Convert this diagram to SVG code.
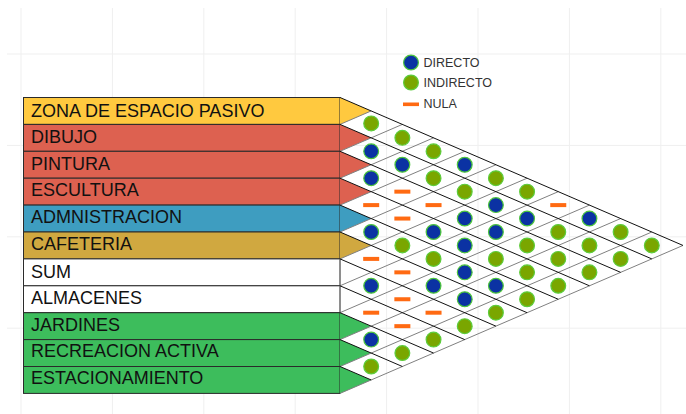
<svg xmlns="http://www.w3.org/2000/svg" xmlns:xlink="http://www.w3.org/1999/xlink" width="686" height="414" viewBox="0 0 686 414">
<style>
.bg{stroke:#efefef;stroke-width:1;fill:none}
.lbl{stroke:#2a2a2a;stroke-width:1}
.t{font-family:"Liberation Sans",Arial,sans-serif;font-size:18px;fill:#111}
.lg{font-family:"Liberation Sans",Arial,sans-serif;font-size:12.5px;fill:#333}
.dr{stroke:#111;stroke-width:1;fill:none}
.ur{stroke:#808080;stroke-width:1;fill:none}
.dir{fill:#0b32a3;stroke:#4cc43c;stroke-width:1.2}
.ind{fill:#7aa600;stroke:#5ccc3c;stroke-width:1.2}
.nul{fill:#ff6a12}
</style>
<defs>
<circle id="D" class="dir" cx="0" cy="0" r="7.4"/>
<circle id="I" class="ind" cx="0" cy="0" r="7.4"/>
<rect id="N" class="nul" x="-8" y="-2" width="16" height="4"/>
</defs>
<rect width="686" height="414" fill="#ffffff"/>
<g id="background-grid" class="bg">
<line x1="21" y1="8" x2="21" y2="414"/>
<line x1="112.4" y1="8" x2="112.4" y2="414"/>
<line x1="203.8" y1="8" x2="203.8" y2="414"/>
<line x1="295.2" y1="8" x2="295.2" y2="414"/>
<line x1="386.6" y1="8" x2="386.6" y2="414"/>
<line x1="478" y1="8" x2="478" y2="414"/>
<line x1="569.4" y1="8" x2="569.4" y2="414"/>
<line x1="660.8" y1="8" x2="660.8" y2="414"/>
<line x1="7" y1="54" x2="686" y2="54"/>
<line x1="7" y1="145.4" x2="686" y2="145.4"/>
<line x1="7" y1="236.8" x2="686" y2="236.8"/>
<line x1="7" y1="328.2" x2="686" y2="328.2"/>
</g>
<g id="legend">
<use href="#D" x="411" y="62.5"/>
<text class="lg" x="423.5" y="66.5">DIRECTO</text>
<use href="#I" x="411" y="82.5"/>
<text class="lg" x="423.5" y="87">INDIRECTO</text>
<rect class="nul" x="403" y="102.5" width="16" height="3.6"/>
<text class="lg" x="423.5" y="107.7">NULA</text>
</g>
<g id="n0"><rect class="lbl" x="23.5" y="97.5" width="316.5" height="26.9" fill="#ffc93f"/><polygon points="340,97.5 371.18,110.95 340,124.4" fill="#ffc93f"/><text class="t" x="31" y="116.7">ZONA DE ESPACIO PASIVO</text></g>
<g id="n1"><rect class="lbl" x="23.5" y="124.4" width="316.5" height="26.9" fill="#dd6150"/><polygon points="340,124.4 371.18,137.85 340,151.3" fill="#dd6150"/><text class="t" x="31" y="143.3">DIBUJO</text></g>
<g id="n2"><rect class="lbl" x="23.5" y="151.3" width="316.5" height="26.9" fill="#dd6150"/><polygon points="340,151.3 371.18,164.75 340,178.2" fill="#dd6150"/><text class="t" x="31" y="169.5">PINTURA</text></g>
<g id="n3"><rect class="lbl" x="23.5" y="178.2" width="316.5" height="26.9" fill="#dd6150"/><polygon points="340,178.2 371.18,191.65 340,205.1" fill="#dd6150"/><text class="t" x="31" y="195.8">ESCULTURA</text></g>
<g id="n4"><rect class="lbl" x="23.5" y="205.1" width="316.5" height="26.9" fill="#3e9dc0"/><polygon points="340,205.1 371.18,218.55 340,232" fill="#3e9dc0"/><text class="t" x="31" y="222.8">ADMNISTRACION</text></g>
<g id="n5"><rect class="lbl" x="23.5" y="232" width="316.5" height="26.9" fill="#d0a840"/><polygon points="340,232 371.18,245.45 340,258.9" fill="#d0a840"/><text class="t" x="31" y="250">CAFETERIA</text></g>
<g id="n6"><rect class="lbl" x="23.5" y="258.9" width="316.5" height="26.9" fill="#ffffff"/><line x1="340" y1="259.4" x2="340" y2="285.3" stroke="#8a8a8a" stroke-width="1.2"/><text class="t" x="31" y="277.7">SUM</text></g>
<g id="n7"><rect class="lbl" x="23.5" y="285.8" width="316.5" height="26.9" fill="#ffffff"/><line x1="340" y1="286.3" x2="340" y2="312.2" stroke="#8a8a8a" stroke-width="1.2"/><text class="t" x="31" y="304">ALMACENES</text></g>
<g id="n8"><rect class="lbl" x="23.5" y="312.7" width="316.5" height="26.9" fill="#3dbd5c"/><polygon points="340,312.7 371.18,326.15 340,339.6" fill="#3dbd5c"/><text class="t" x="31" y="330.7">JARDINES</text></g>
<g id="n9"><rect class="lbl" x="23.5" y="339.6" width="316.5" height="26.9" fill="#3dbd5c"/><polygon points="340,339.6 371.18,353.05 340,366.5" fill="#3dbd5c"/><text class="t" x="31" y="357.3">RECREACION ACTIVA</text></g>
<g id="n10"><rect class="lbl" x="23.5" y="366.5" width="316.5" height="26.9" fill="#3dbd5c"/><polygon points="340,366.5 371.18,379.95 340,393.4" fill="#3dbd5c"/><text class="t" x="31" y="383.5">ESTACIONAMIENTO</text></g>
<g id="connectors">
<g class="ur">
<line x1="340" y1="124.4" x2="371.18" y2="110.95"/>
<line x1="340" y1="151.3" x2="402.36" y2="124.4"/>
<line x1="340" y1="178.2" x2="433.54" y2="137.85"/>
<line x1="340" y1="205.1" x2="464.72" y2="151.3"/>
<line x1="340" y1="232" x2="495.9" y2="164.75"/>
<line x1="340" y1="258.9" x2="527.08" y2="178.2"/>
<line x1="340" y1="285.8" x2="558.26" y2="191.65"/>
<line x1="340" y1="312.7" x2="589.44" y2="205.1"/>
<line x1="340" y1="339.6" x2="620.62" y2="218.55"/>
<line x1="340" y1="366.5" x2="651.8" y2="232"/>
<line x1="340" y1="393.4" x2="682.98" y2="245.45"/>
</g>
<g class="dr">
<line x1="340" y1="97.5" x2="682.98" y2="245.45"/>
<line x1="340" y1="124.4" x2="651.8" y2="258.9"/>
<line x1="340" y1="151.3" x2="620.62" y2="272.35"/>
<line x1="340" y1="178.2" x2="589.44" y2="285.8"/>
<line x1="340" y1="205.1" x2="558.26" y2="299.25"/>
<line x1="340" y1="232" x2="527.08" y2="312.7"/>
<line x1="340" y1="258.9" x2="495.9" y2="326.15"/>
<line x1="340" y1="285.8" x2="464.72" y2="339.6"/>
<line x1="340" y1="312.7" x2="433.54" y2="353.05"/>
<line x1="340" y1="339.6" x2="402.36" y2="366.5"/>
<line x1="340" y1="366.5" x2="371.18" y2="379.95"/>
</g>
</g>
<g id="marks">
<use href="#I" x="371.18" y="123.4"/>
<use href="#D" x="371.18" y="151.3"/>
<use href="#D" x="371.18" y="178.2"/>
<use href="#N" x="371.18" y="205.1"/>
<use href="#D" x="371.18" y="232"/>
<use href="#N" x="371.18" y="258.9"/>
<use href="#D" x="371.18" y="285.8"/>
<use href="#N" x="371.18" y="312.7"/>
<use href="#D" x="371.18" y="339.6"/>
<use href="#I" x="371.18" y="366.5"/>

<use href="#I" x="402.36" y="137.85"/>
<use href="#D" x="402.36" y="164.75"/>
<use href="#N" x="402.36" y="191.65"/>
<use href="#N" x="402.36" y="218.55"/>
<use href="#I" x="402.36" y="245.45"/>
<use href="#N" x="402.36" y="272.35"/>
<use href="#N" x="402.36" y="299.25"/>
<use href="#N" x="402.36" y="326.15"/>
<use href="#I" x="402.36" y="353.05"/>

<use href="#I" x="433.54" y="151.3"/>
<use href="#I" x="433.54" y="178.2"/>
<use href="#N" x="433.54" y="205.1"/>
<use href="#D" x="433.54" y="232"/>
<use href="#I" x="433.54" y="258.9"/>
<use href="#D" x="433.54" y="285.8"/>
<use href="#N" x="433.54" y="312.7"/>
<use href="#I" x="433.54" y="339.6"/>

<use href="#D" x="464.72" y="164.75"/>
<use href="#I" x="464.72" y="191.65"/>
<use href="#D" x="464.72" y="218.55"/>
<use href="#D" x="464.72" y="245.45"/>
<use href="#D" x="464.72" y="272.35"/>
<use href="#D" x="464.72" y="299.25"/>
<use href="#I" x="464.72" y="326.15"/>

<use href="#I" x="495.9" y="178.2"/>
<use href="#D" x="495.9" y="205.1"/>
<use href="#D" x="495.9" y="232"/>
<use href="#I" x="495.9" y="258.9"/>
<use href="#D" x="495.9" y="285.8"/>
<use href="#I" x="495.9" y="312.7"/>

<use href="#I" x="527.08" y="191.65"/>
<use href="#D" x="527.08" y="218.55"/>
<use href="#I" x="527.08" y="245.45"/>
<use href="#I" x="527.08" y="272.35"/>
<use href="#I" x="527.08" y="299.25"/>

<use href="#N" x="558.26" y="205.1"/>
<use href="#I" x="558.26" y="232"/>
<use href="#I" x="558.26" y="258.9"/>
<use href="#I" x="558.26" y="285.8"/>

<use href="#D" x="589.44" y="218.55"/>
<use href="#I" x="589.44" y="245.45"/>
<use href="#I" x="589.44" y="272.35"/>

<use href="#I" x="620.62" y="232"/>
<use href="#I" x="620.62" y="258.9"/>

<use href="#I" x="651.8" y="245.45"/>
</g>
</svg>
